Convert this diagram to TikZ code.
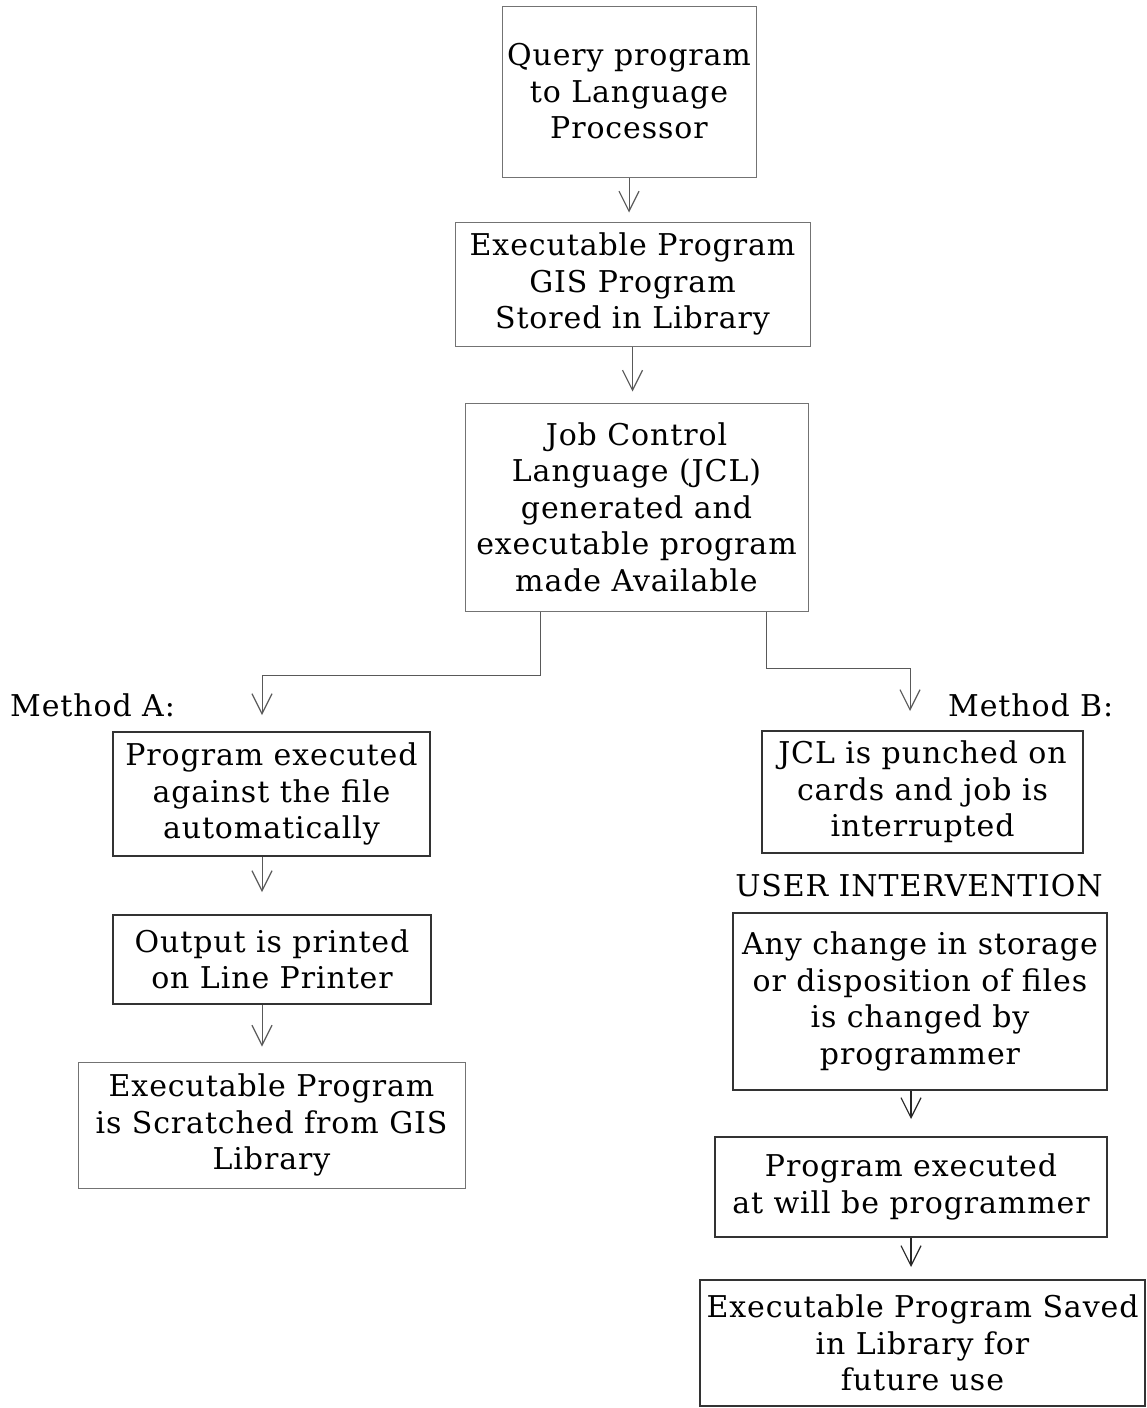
\documentclass[tikz,border=0pt]{standalone}
\usepackage{fontspec}
\setmainfont{DejaVu Serif}[LetterSpace=3]
\usetikzlibrary{arrows.meta}

\tikzset{
  box/.style={draw=black!55, line width=1pt, align=center, inner sep=0pt,
    font=\fontsize{30}{36.5}\selectfont},
  heavybox/.style={box, draw=black!80, line width=2pt},
  note/.style={inner sep=0pt, font=\fontsize{30}{36}\selectfont},
  arr/.style={-{Straight Barb[length=20pt,width=20pt,line width=1.2pt]},
    line width=1pt, draw=black!65},
  heavyarr/.style={arr, line width=1.8pt, draw=black!85},
}

\begin{document}
\begin{tikzpicture}[x=1pt,y=-1pt]
  \useasboundingbox (0,0) rectangle (1146,1408);

  % main column
  \node[box, minimum width=254, minimum height=171] (query) at (629,91.5)
    {Query program\\to Language\\Processor};
  \node[box, minimum width=355, minimum height=124] (exec) at (632.5,284)
    {Executable Program\\GIS Program\\Stored in Library};
  \node[box, minimum width=343, minimum height=208] (jcl) at (636.5,507)
    {Job Control\\Language (JCL)\\generated and\\executable program\\made Available};

  % method A
  \node[note, anchor=west] (methA) at (10,705) {Method A:};
  \node[heavybox, minimum width=317, minimum height=124] (a1) at (271.5,794)
    {Program executed\\against the file\\automatically};
  \node[heavybox, minimum width=318, minimum height=89] (a2) at (272,959.5)
    {Output is printed\\on Line Printer};
  \node[box, minimum width=387, minimum height=126] (a3) at (271.5,1125)
    {Executable Program\\is Scratched from GIS\\Library};

  % method B
  \node[note, anchor=west] (methB) at (948,705) {Method B:};
  \node[heavybox, minimum width=321, minimum height=122] (b1) at (922.5,792)
    {JCL is punched on\\cards and job is\\interrupted};
  \node[note] (user) at (919,886) {USER INTERVENTION};
  \node[heavybox, minimum width=374, minimum height=177] (b2) at (920,1001.5)
    {Any change in storage\\or disposition of files\\is changed by\\programmer};
  \node[heavybox, minimum width=392, minimum height=100] (b3) at (911,1187)
    {Program executed\\at will be programmer};
  \node[heavybox, minimum width=445, minimum height=126] (b4) at (922.5,1343)
    {Executable Program Saved\\in Library for\\future use};

  \coordinate (forkA) at (262,675);
  \coordinate (forkB) at (910,668);

  \draw[arr, shorten >=9pt] (query.south) -- (query.south |- exec.north);
  \draw[arr, shorten >=11pt] (exec.south) -- (exec.south |- jcl.north);
  \draw[arr, shorten >=16pt] ([xshift=-96pt]jcl.south) |- (forkA) -- (forkA |- a1.north);
  \draw[arr, shorten >=19pt] ([xshift=130pt]jcl.south) |- (forkB) -- (forkB |- b1.north);

  \draw[arr, shorten >=22pt] (forkA |- a1.south) -- (forkA |- a2.north);
  \draw[arr, shorten >=15pt] (forkA |- a2.south) -- (forkA |- a3.north);

  \draw[heavyarr, shorten >=17pt] (b3.north |- b2.south) -- (b3.north);
  \draw[heavyarr, shorten >=12pt] (b3.south) -- (b3.south |- b4.north);
\end{tikzpicture}
\end{document}
